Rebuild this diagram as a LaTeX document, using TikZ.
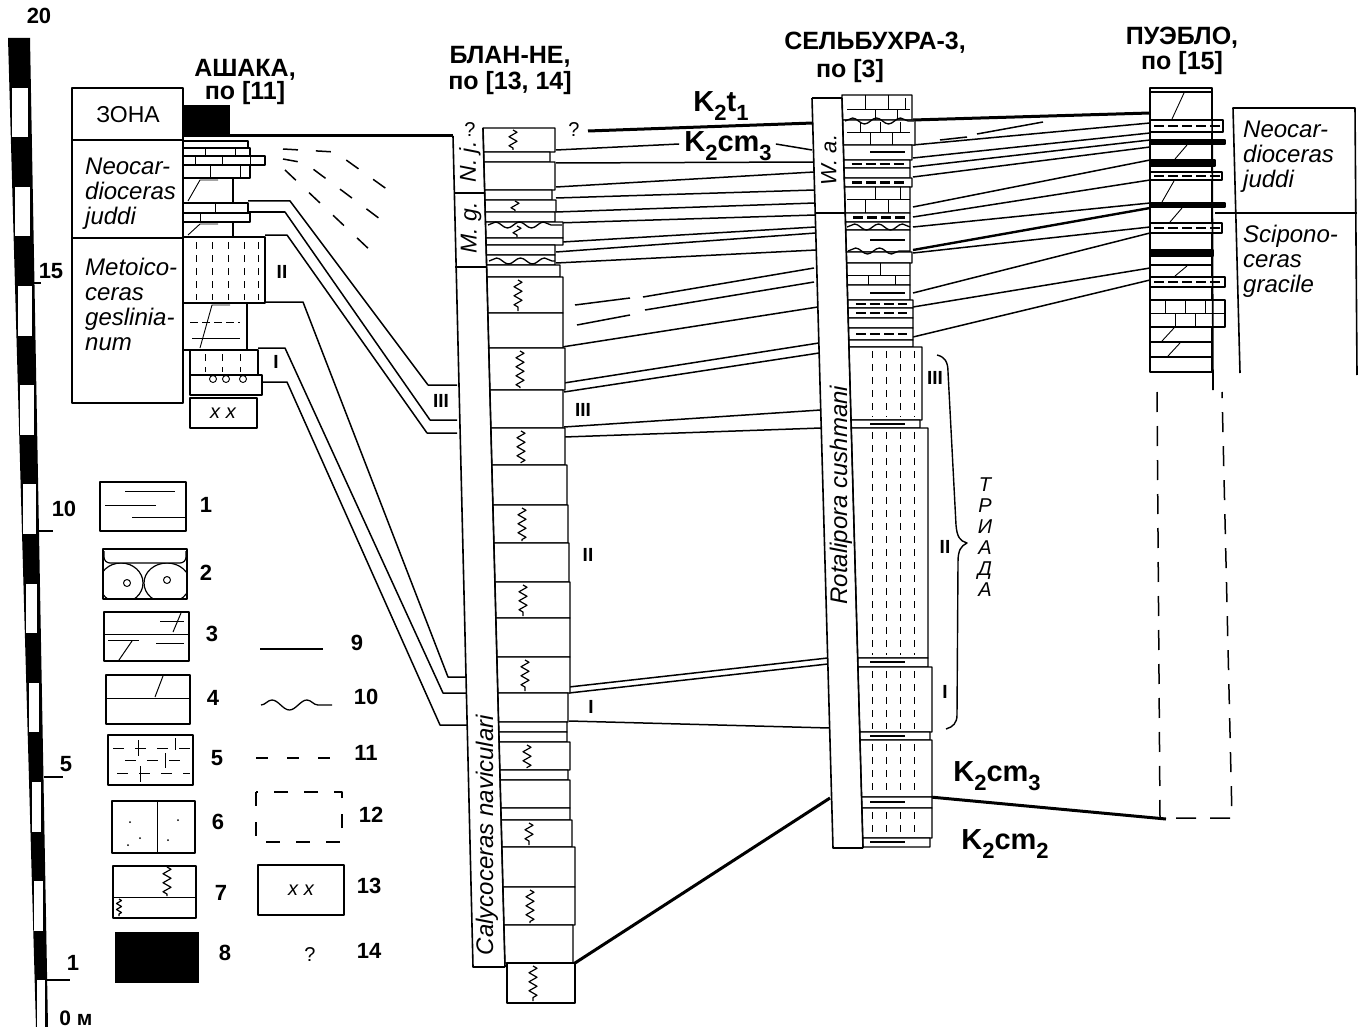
\documentclass[tikz,border=0pt]{standalone}
\usepackage{fontspec}
\setmainfont{Liberation Sans}
\usetikzlibrary{positioning,decorations.pathmorphing}
\tikzstyle{bed}=[draw,line width=1.2pt,fill=white]
\tikzstyle{col}=[line width=1.6pt]
\tikzstyle{cor}=[line width=1.5pt]
\tikzstyle{cor thick}=[line width=3pt]
\tikzstyle{cor dash}=[line width=1.5pt,dash pattern=on 15pt off 18pt]
\tikzstyle{zig}=[line width=1.2pt,decorate,decoration={zigzag,segment length=9pt,amplitude=4pt}]
\tikzstyle{wavy}=[line width=1.3pt,decorate,decoration={snake,segment length=24pt,amplitude=3pt}]
\tikzstyle{tk}=[line width=1pt,dash pattern=on 7pt off 6pt]
\tikzstyle{dk}=[line width=2.4pt,dash pattern=on 10pt off 4pt]
\tikzstyle{ttl}=[font=\fontsize{25}{27}\selectfont\bfseries,inner sep=0pt,anchor=base]
\tikzstyle{zonetxt}=[font=\fontsize{24}{25}\selectfont\itshape,inner sep=0pt,align=left,anchor=north west]
\tikzstyle{rottxt}=[font=\fontsize{23}{25}\selectfont\itshape,inner sep=0pt,rotate=90]
\tikzstyle{num}=[font=\fontsize{22}{24}\selectfont\bfseries,inner sep=0pt]
\tikzstyle{rom}=[font=\fontsize{19}{20}\selectfont\bfseries,inner sep=0pt]
\tikzstyle{kk}=[font=\fontsize{29}{30}\selectfont\bfseries,inner sep=0pt]
\newcommand{\ksub}[1]{\raisebox{-0.3em}{\fontsize{22}{22}\selectfont #1}}

\begin{document}
\begin{tikzpicture}[x=1pt,y=-1pt,line join=round]
  \useasboundingbox (0,0) rectangle (1370,1027);
  \fill[white] (0,0) rectangle (1370,1027);

  % scale bar
  \fill (8,38) -- (30,38) -- (48,1027) -- (36,1027) -- cycle;
  \foreach \m in {0,2,...,18}{
    \pgfmathsetmacro{\ya}{1030-49.6*(\m+1)}
    \pgfmathsetmacro{\yb}{min(1030-49.6*\m,1029)}
    \pgfmathsetmacro{\xl}{8+0.0283*(\ya-38)+2.5}
    \pgfmathsetmacro{\xr}{30+0.0182*(\ya-38)-2.5}
    \fill[white] (\xl,\ya) rectangle (\xr,\yb);
  }
  \draw[line width=1.3pt] (30,283) -- (41,283);
  \draw[line width=1.3pt] (37,531) -- (53,531);
  \draw[line width=1.3pt] (44,777) -- (63,777);
  \draw[line width=1.3pt] (47,980) -- (70,980);
  \node[num] (s_20) at (39,16) {20};
  \node[num] (s_15) at (51,271) {15};
  \node[num] (s_10) at (64,509) {10};
  \node[num] (s_5) at (66,764) {5};
  \node[num] (s_1) at (73,963) {1};
  \node[num,font=\fontsize{21}{22}\selectfont\bfseries] (s_0) at (76,1018) {0 м};

  % titles
  \node[ttl] (t_ash) at (245,77) {АШАКА,};
  \node[ttl] (t_ash_b) at ([yshift=-23pt]t_ash.base) {по [11]};
  \node[ttl] (t_bla) at (510,64) {БЛАН-НЕ,};
  \node[ttl] (t_bla_b) at ([yshift=-26pt]t_bla.base) {по [13, 14]};
  \node[ttl] (t_sel) at (875,50) {СЕЛЬБУХРА-3,};
  \node[ttl] (t_sel_b) at ([xshift=-25pt,yshift=-28pt]t_sel.base) {по [3]};
  \node[ttl] (t_pue) at (1182,45) {ПУЭБЛО,};
  \node[ttl] (t_pue_b) at ([yshift=-25pt]t_pue.base) {по [15]};

  % correlation lines
  \draw[cor thick] (230,136) -- (453,136);
  \draw[cor dash] (283,149) -- (335,152) -- (388,190);
  \draw[cor dash] (283,159) -- (305,163) -- (380,219);
  \draw[cor dash] (285,170) -- (372,252);
  \draw[cor] (248,201) -- (290,201) -- (428,385) -- (457,385);
  \draw[cor] (235,212) -- (285,212) -- (430,420) -- (457,420);
  \draw[cor] (265,235) -- (287,235) -- (427,433) -- (457,433);
  \draw[cor] (265,302) -- (303,302) -- (448,677) -- (466,677);
  \draw[cor] (258,348) -- (285,348) -- (443,693) -- (466,693);
  \draw[cor] (262,382) -- (287,382) -- (440,725) -- (467,725);
  \draw[cor thick] (588,131) -- (813,123);
  \foreach \xa/\ya/\yb in {556/163/162,556/187/172,556/198/190,556/212/203,556/223/215,
      562/242/227,556/252/233,556/263/250,562/347/307,564/383/343,564/392/353,
      564/427/410,564/437/428,569/687/658,569/693/664,569/721/728}
    \draw[cor] (\xa,\ya) -- ({812+0.028*(\yb-98)},\yb);
  \draw[cor] (575,305) -- (630,298);
  \draw[cor] (643,297) -- (814,268);
  \draw[cor] (577,325) -- (630,315);
  \draw[cor] (645,310) -- (814,282);
  \draw[cor thick] (575,963) -- (830,798);
  \draw[cor thick] (913,120) -- (1150,113);
  \foreach \ya/\yb in {145/123,158/133,167/140,177/147,207/160,217/180,227/203,
      253/227,293/233,307/268,337/280}
    \draw[cor] (913,\ya) -- (1150,\yb);
  \draw[line width=2.4pt] (913,250) -- (1150,208);
  \draw[cor] (940,140) -- (967,137);
  \draw[cor] (977,134) -- (1043,122);
  \draw[cor thick] (930,797) -- (1166,819);
  \draw[cor,dash pattern=on 20pt off 14pt] (1157,392) -- (1160,818) -- (1232,818) -- (1222,392);

  % ashaka
  \draw[col] (72,88) rectangle (183,403);
  \draw[col] (72,140) -- (183,140);
  \draw[col] (72,238) -- (183,238);
  \fill (183,105) rectangle (230,137);
  \node[font=\fontsize{23}{24}\selectfont,inner sep=0pt] (z_ash) at (128,115) {ЗОНА};
  \node[zonetxt] (z_nj1) at (85,158) {Neocar-\\dioceras\\juddi};
  \node[zonetxt] (z_mg1) at (85,258) {Metoico-\\ceras\\geslinia-\\num};
  \foreach \ya/\yb/\xr in {141/148/248,148/156/250,156/165/265,165/178/250,178/203/233,
      203/213/248,213/222/250,222/237/233,237/303/265,303/350/247}
    \draw[bed] (183,\ya) rectangle (\xr,\yb);
  \foreach \ya/\yb/\xr in {350/375/258,375/395/262,398/428/257}
    \draw[bed] (190,\ya) rectangle (\xr,\yb);
  \foreach \xx/\ya/\yb in {205/148/156,235/148/156,195/156/165,222/156/165,250/156/165,
      210/165/178,240/165/178,215/203/213,200/213/222}
    \draw[line width=0.8pt] (\xx,\ya) -- (\xx,\yb);
  \foreach \xa/\ya/\yb in {188/178/203,188/222/237,200/303/350}
    \draw[line width=0.9pt] (\xa,{\yb-2}) -- ({\xa+12},{\ya+2}) -- ({\xa+30},{\ya+2});
  \draw[line width=0.9pt,dash pattern=on 8pt off 4pt] (190,322) -- (240,322);
  \draw[line width=0.9pt] (192,338) -- (240,338);
  \foreach \xx in {196,212,228,244,258}
    \draw[tk] (\xx,242) -- (\xx,300);
  \foreach \xx in {205,222,240}
    \draw[tk] (\xx,354) -- (\xx,372);
  \foreach \xx in {213,226,243}
    \draw[line width=0.9pt] (\xx,379) circle (3.5pt);
  \node[font=\fontsize{20}{20}\selectfont\itshape,inner sep=0pt] (ash_xx) at (223,413) {x x};
  \node[rom] (r_ash2) at (282,272) {II};
  \node[rom] (r_ash1) at (276,362) {I};
  \node[rom] (r_ash3) at (441,401) {III};

  % blanc-nez
  \foreach \ya/\yb/\xr in {128/152/555,152/162/550,162/190/555,190/200/552,200/212/556,
      212/222/555,222/238/563,238/245/563,245/255/555,255/265/555,265/277/560,277/313/563,
      313/348/563,348/390/565,390/428/563,428/465/565,465/505/567,505/543/568,543/582/569,
      582/618/570,618/657/570,657/693/570,693/722/568,722/732/567,732/742/567,742/770/570,
      770/780/568,780/808/570,808/820/570,820/847/572,847/887/575,887/925/575,925/963/573}
    \draw[bed] ({483+0.0262*(\ya-128)},\ya) -- (\xr,\ya) -- (\xr,\yb)
      -- ({483+0.0262*(\yb-128)},\yb) -- cycle;
  \draw[bed] (507,963) rectangle (575,1003);
  \foreach \xx/\ya/\yb in {513/130/150,515/201/211,517/226/237,518/280/311,520/351/388,
      521/431/463,522/508/541,523/585/616,525/660/691,527/745/768,529/823/845,
      530/890/923,533/966/1001}
    \draw[zig] (\xx,\ya) -- (\xx,\yb);
  \draw[wavy] (488,225) -- (562,225);
  \draw[wavy] (489,261) -- (555,261);
  \draw[col] (453,136) -- (473,967) -- (505,967);
  \draw[col] (483,128) -- (505,967);
  \draw[col] (454,193) -- (485,193);
  \draw[col] (455,267) -- (487,267);
  \node[font=\fontsize{20}{20}\selectfont,inner sep=0pt] (q_1) at (470,130) {?};
  \node[font=\fontsize{20}{20}\selectfont,inner sep=0pt] (q_2) at (574,130) {?};
  \node[rottxt] (z_nj2) at (470,162) {N. j.};
  \node[rottxt] (z_mg2) at (471,228) {M. g.};
  \node[rottxt,font=\fontsize{24}{25}\selectfont\itshape] (z_cal) at (487,835) {Calycoceras naviculari};
  \node[rom] (r_bla3) at (583,410) {III};
  \node[rom] (r_bla2) at (588,555) {II};
  \node[rom] (r_bla1) at (591,707) {I};

  % selbukhra
  \foreach \ya/\yb/\xr in {95/120/912,120/145/915,145/160/912,160/168/910,168/178/910,
      178/187/912,187/213/910,213/222/910,222/230/910,230/252/910,252/263/912,263/285/910,
      285/300/910,300/308/913,308/318/913,318/328/913,328/340/913,340/347/913,347/420/922,
      420/428/920,428/658/928,658/667/928,667/732/932,732/740/930,740/797/932,797/808/932,
      808/838/932,838/847/930}
    \draw[bed] ({842+0.028*(\ya-98)},\ya) -- (\xr,\ya) -- (\xr,\yb)
      -- ({842+0.028*(\yb-98)},\yb) -- cycle;
  \foreach \xx/\ya/\yb in {865/95/110,888/95/110,905/98/110,875/110/120,897/110/120,
      860/122/133,880/122/133,900/122/133,870/133/145,892/133/145,875/187/200,900/187/200,
      865/200/213,888/200/213,880/263/275,868/275/285,895/275/285}
    \draw[line width=1pt] (\xx,\ya) -- (\xx,\yb);
  \foreach \yy in {110,133,200,275}
    \draw[line width=1pt] (847,\yy) -- (910,\yy);
  \foreach \ya/\yb in {160/168,178/187,213/222,300/308,308/318,328/340}
    \draw[dk] ({850+0.028*(\ya-98)},{(\ya+\yb)/2}) -- (907,{(\ya+\yb)/2});
  \foreach \yy in {152,240,293,424,662,736,802,842}
    \draw[line width=1.6pt] (870,\yy) -- (905,\yy);
  \foreach \ya/\yb in {351/417,432/655,671/729,744/794,812/835}
    \foreach \xx in {872,886,900,914}
      \draw[tk] (\xx,\ya) -- (\xx,\yb);
  \draw[wavy] (845,121) -- (914,121);
  \draw[wavy] (847,227) -- (910,227);
  \draw[wavy] (848,251) -- (910,251);
  \draw[col] (812,98) -- (842,98);
  \draw[col] (812,98) -- (833,848) -- (863,848);
  \draw[col] (842,98) -- (863,848);
  \draw[col] (815,213) -- (846,213);
  \node[rottxt,font=\fontsize{22}{24}\selectfont\itshape] (z_wa) at (829,160) {W. a.};
  \node[rottxt,font=\fontsize{24}{25}\selectfont\itshape] (z_rot) at (841,495) {Rotalipora cushmani};
  \node[rom] (r_sel3) at (935,378) {III};
  \node[rom] (r_sel2) at (945,547) {II};
  \node[rom] (r_sel1) at (945,692) {I};
  \draw[line width=1.4pt] (937,355) .. controls (945,357) and (948,362) .. (948,372)
    -- (956,525) .. controls (957,537) and (960,541) .. (967,543)
    .. controls (961,546) and (958,550) .. (958,562)
    -- (957,715) .. controls (957,723) and (953,727) .. (946,729);
  \node[font=\fontsize{20}{21}\selectfont\itshape,inner sep=0pt,align=center] (triad) at (985,537) {Т\\Р\\И\\А\\Д\\А};

  % ages
  \node[kk] (k_t1) at (721,106) {K\ksub{2}t\ksub{1}};
  \node[kk] (k_cm3a) at (728,146) {K\ksub{2}cm\ksub{3}};
  \draw[cor] (556,150) -- ([xshift=-5pt,yshift=2pt]k_cm3a.west);
  \draw[cor] ([xshift=4pt,yshift=2pt]k_cm3a.east) -- (812,150);
  \node[kk] (k_cm3b) at (997,776) {K\ksub{2}cm\ksub{3}};
  \node[kk] (k_cm2) at (1005,844) {K\ksub{2}cm\ksub{2}};

  % pueblo
  \foreach \ya/\yb/\xr in {88/92/1212,92/120/1212,120/132/1223,132/140/1212,140/144/1225,
      144/160/1212,160/166/1215,166/172/1212,172/180/1222,180/203/1212,203/207/1225,
      207/223/1212,223/233/1222,233/250/1212,250/256/1213,256/265/1212,265/277/1212,
      277/287/1225,287/300/1212,300/327/1225,327/342/1212,342/357/1212,357/372/1212}
    \draw[bed] (1150,\ya) rectangle (\xr,\yb);
  \foreach \ya/\yb/\xr in {140/144/1225,160/166/1215,203/207/1225,250/256/1213}
    \fill (1150,\ya) rectangle (\xr,\yb);
  \foreach \xa/\ya/\yb in {1172/92/120,1175/144/160,1162/180/203,1170/207/223,
      1175/265/277,1162/327/342,1168/342/357}
    \draw[line width=0.9pt] (\xa,{\yb-1}) -- ({\xa+12},{\ya+1});
  \foreach \ya/\yb in {120/132,172/180,223/233,277/287}
    \draw[dk] (1154,{(\ya+\yb)/2}) -- (1220,{(\ya+\yb)/2});
  \draw[line width=1pt] (1150,313) -- (1225,313);
  \foreach \xx/\ya/\yb in {1165/300/313,1185/300/313,1205/300/313,1175/313/327,1195/313/327}
    \draw[line width=1pt] (\xx,\ya) -- (\xx,\yb);
  \draw[col] (1150,88) -- (1150,372);
  \draw[col] (1212,88) -- (1213,390);
  \draw[col] (1240,373) -- (1233,108) -- (1355,108) -- (1357,375);
  \draw[col] (1215,213) -- (1357,213);
  \node[zonetxt] (z_nj3) at (1243,121) {Neocar-\\dioceras\\juddi};
  \node[zonetxt] (z_sg) at (1243,225) {Scipono-\\ceras\\gracile};

  % legend
  \draw[bed] (100,482) rectangle (186,531);
  \draw[line width=1pt] (125,491) -- (175,491);
  \draw[line width=1pt] (105,505) -- (156,505);
  \draw[line width=1pt] (132,517) -- (186,517);
  \draw[bed] (103,549) rectangle (187,599);
  \begin{scope}
    \clip (103,563) rectangle (187,599);
    \draw[line width=1.2pt] (121,583) ellipse (22pt and 20pt);
    \draw[line width=1.2pt] (167,583) ellipse (23pt and 20pt);
  \end{scope}
  \draw[line width=1.2pt,rounded corners=6pt] (104,551) -- (104,563) -- (186,563) -- (186,551);
  \draw[line width=1pt] (127,583) circle (3.5pt);
  \draw[line width=1pt] (167,580) circle (3.5pt);
  \draw[bed] (104,612) rectangle (189,661);
  \draw[line width=1pt] (104,634) -- (189,634);
  \draw[line width=1pt] (160,621) -- (184,621);
  \draw[line width=1pt] (108,640) -- (139,640);
  \draw[line width=1pt] (156,643) -- (184,643);
  \draw[line width=1pt] (181,613) -- (173,632);
  \draw[line width=1pt] (132,641) -- (119,660);
  \draw[bed] (106,675) rectangle (190,724);
  \draw[line width=1pt] (106,698) -- (190,698);
  \draw[line width=1pt] (163,676) -- (155,697);
  \draw[bed] (108,735) rectangle (193,785);
  \foreach \yy/\xs in {748/0,760/12,773/4}
    \draw[line width=1pt,dash pattern=on 11pt off 11pt] ({113+\xs},\yy) -- (190,\yy);
  \foreach \xx/\ya/\yb in {138/740/756,165/753/768,140/766/782,175/738/750}
    \draw[line width=1pt] (\xx,\ya) -- (\xx,\yb);
  \draw[bed] (112,801) rectangle (195,853);
  \draw[line width=1pt] (157,801) -- (157,853);
  \foreach \xx/\yy in {130/822,140/838,178/820,128/845,168/840}
    \fill (\xx,\yy) circle (1pt);
  \draw[bed] (113,866) rectangle (196,918);
  \draw[line width=1pt] (113,897) -- (196,897);
  \draw[zig] (167,867) -- (167,896);
  \draw[zig,decoration={zigzag,segment length=6pt,amplitude=2.5pt}] (119,899) -- (119,916);
  \fill (115,932) rectangle (199,983);
  \draw[cor] (260,649) -- (323,649);
  \draw[line width=1.3pt,decorate,decoration={snake,segment length=35pt,amplitude=5pt}] (261,705) -- (332,705);
  \draw[cor,dash pattern=on 12pt off 19pt] (256,758) -- (339,758);
  \draw[cor,dash pattern=on 14pt off 16pt] (256,792) rectangle (342,842);
  \draw[bed] (258,865) rectangle (344,915);
  \node[font=\fontsize{20}{20}\selectfont\itshape,inner sep=0pt] (leg_xx) at (301,890) {x x};
  \node[font=\fontsize{20}{20}\selectfont,inner sep=0pt] (leg_q) at (310,955) {?};
  \foreach \n/\xx/\yy in {1/206/505,2/206/573,3/212/634,4/213/698,5/217/758,6/218/822,
      7/221/893,8/225/953,9/357/643,10/366/697,11/366/753,12/371/815,13/369/886,14/369/951}
    \node[num] (leg_\n) at (\xx,\yy) {\n};
\end{tikzpicture}
\end{document}
